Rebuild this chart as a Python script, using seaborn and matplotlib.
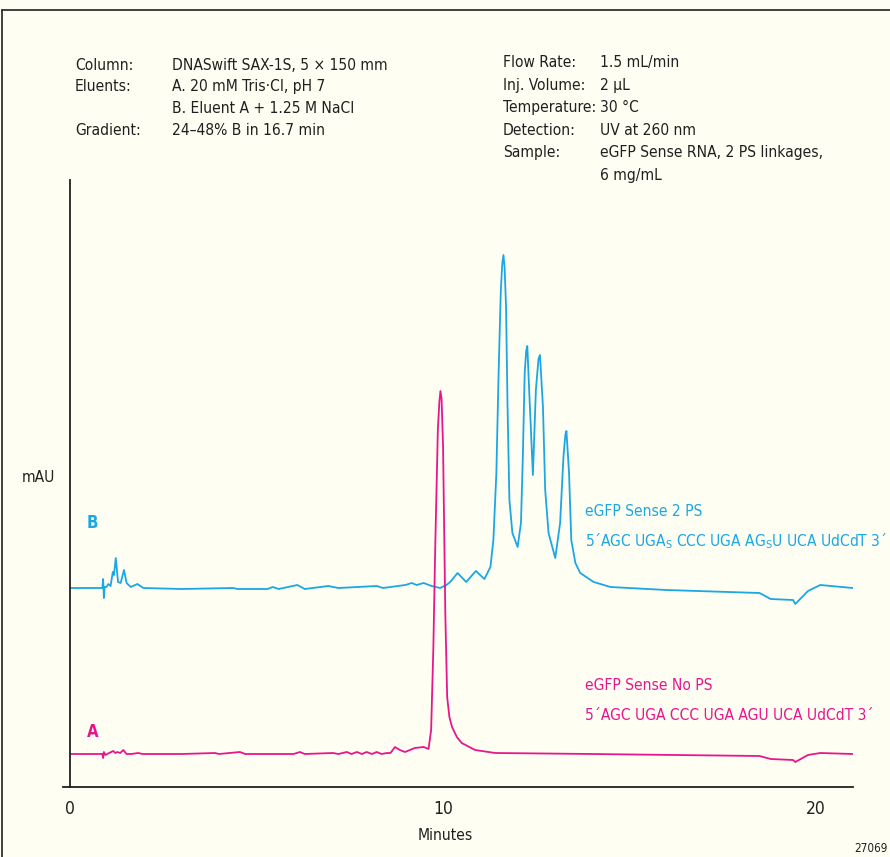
import numpy as np
import pandas as pd
import seaborn as sns
import matplotlib.pyplot as plt
from matplotlib.lines import Line2D

# Trace A: eGFP Sense, no PS linkage (minutes, signal)
tempo_a = [0.0, 0.87, 0.89, 0.91, 0.95, 1.05, 1.16, 1.22, 1.27, 1.35, 1.43, 1.52, 1.65,
           1.83, 1.95, 3.0, 3.89, 4.0, 4.56, 4.7, 6.0, 6.17, 6.3, 7.06, 7.2, 7.43, 7.55,
           7.70, 7.83, 7.96, 8.1, 8.23, 8.36, 8.50, 8.6, 8.72, 8.85, 8.99, 9.25, 9.49,
           9.62, 9.69, 9.75, 9.80, 9.87, 9.91, 9.94, 9.97, 10.01, 10.07, 10.12, 10.18,
           10.25, 10.38, 10.51, 10.87, 11.41, 14.0, 18.5, 18.8, 19.4, 19.46, 19.8, 20.13, 21.0]
sinal_a = [33, 33, 29, 35, 32, 34, 36, 34, 35, 34, 37, 33, 33,
           34, 33, 33, 34, 33, 35, 33, 33, 35, 33, 34, 33, 35, 33,
           35, 33, 35, 33, 35, 33, 34, 34, 40, 37, 35, 39, 40,
           38, 57, 140, 240, 357, 385, 396, 388, 340, 174, 90, 70,
           60, 50, 44, 37, 34, 33, 31, 28, 27, 25, 32, 34, 33]

# Trace B: eGFP Sense, 2 PS linkages
tempo_b = [0.0, 0.87, 0.89, 0.91, 0.93, 0.98, 1.03, 1.09, 1.15, 1.18, 1.23, 1.29, 1.36,
           1.45, 1.52, 1.63, 1.81, 1.97, 3.0, 4.38, 4.5, 5.3, 5.44, 5.6, 6.10, 6.3, 6.93,
           7.2, 8.23, 8.4, 9.0, 9.17, 9.3, 9.49, 9.7, 9.93, 10.1, 10.2, 10.40, 10.63,
           10.89, 11.12, 11.28, 11.36, 11.44, 11.50, 11.56, 11.60, 11.63, 11.66, 11.70,
           11.74, 11.79, 11.87, 12.01, 12.10, 12.15, 12.20, 12.24, 12.27, 12.32, 12.42,
           12.50, 12.57, 12.61, 12.69, 12.75, 12.84, 13.02, 13.15, 13.24, 13.29, 13.32,
           13.39, 13.45, 13.56, 13.69, 14.05, 14.50, 16.0, 18.5, 18.8, 19.4, 19.46, 19.8,
           20.13, 21.0]
sinal_b = [199, 199, 208, 189, 200, 200, 203, 201, 215, 212, 229, 205, 204,
           217, 204, 200, 203, 199, 198, 199, 198, 198, 200, 198, 202, 198, 201,
           199, 201, 199, 202, 204, 202, 204, 201, 199, 202, 205, 214, 205,
           216, 208, 220, 247, 314, 414, 497, 524, 532, 520, 480,
           380, 287, 254, 240, 264, 330, 414, 436, 441, 397, 312,
           397, 428, 432, 380, 297, 254, 229, 264, 330, 352, 356,
           314, 247, 224, 214, 205, 200, 197, 194, 188, 187, 183, 196,
           202, 199]

condicoes_esq = [("Column:", "DNASwift SAX-1S, 5 \u00d7 150 mm"),
                 ("Eluents:", "A. 20 mM Tris\u00b7Cl, pH 7"),
                 ("", "B. Eluent A + 1.25 M NaCl"),
                 ("Gradient:", "24\u201348% B in 16.7 min")]
condicoes_dir = [("Flow Rate:", "1.5 mL/min"),
                 ("Inj. Volume:", "2 \u00b5L"),
                 ("Temperature:", "30 \u00b0C"),
                 ("Detection:", "UV at 260 nm"),
                 ("Sample:", "eGFP Sense RNA, 2 PS linkages,"),
                 ("", "6 mg/mL")]

AZUL = '#1ba7e4'
MAGENTA = '#e8168c'
FUNDO = '#fefef3'
ESCURO = '#231f20'

sns.set_style("white")
plt.rcParams['font.family'] = ['DejaVu Sans Condensed', 'DejaVu Sans']
plt.rcParams['font.stretch'] = 'condensed'
plt.rcParams['mathtext.fontset'] = 'custom'
plt.rcParams['mathtext.rm'] = 'DejaVu Sans:stretch=condensed'

W, H = 890, 857
fig = plt.figure(figsize=(W / 100, H / 100), dpi=100, facecolor=FUNDO)


def texto(x, y, s, **kw):
    # posicao em pixels da imagem (origem no topo)
    fig.text(x / W, 1 - y / H, s, va='center', **kw)


ax = fig.add_axes([62.5 / W, (H - 787) / H, (852.7 - 62.5) / W, (787 - 180) / H])
ax.set_facecolor(FUNDO)

df_a = pd.DataFrame({"Minutes": tempo_a, "mAU": sinal_a})
df_b = pd.DataFrame({"Minutes": tempo_b, "mAU": sinal_b})
sns.lineplot(data=df_b, x="Minutes", y="mAU", ax=ax, color=AZUL, lw=1.3,
             sort=False, estimator=None)
sns.lineplot(data=df_a, x="Minutes", y="mAU", ax=ax, color=MAGENTA, lw=1.3,
             sort=False, estimator=None)

ax.set_xlim(-0.2, 21.0)
ax.set_ylim(0, 607)
for lado in ['top', 'right']:
    ax.spines[lado].set_visible(False)
ax.spines['left'].set_position(('data', 0))
for lado in ['left', 'bottom']:
    ax.spines[lado].set_color(ESCURO)
    ax.spines[lado].set_linewidth(1.3)

ax.set_xticks([0, 10, 20, 21])
ax.set_xticklabels(['0', '10', '20', ''])
ax.set_yticks([607])
ax.set_yticklabels([''])
ax.tick_params(axis='x', direction='out', length=6, width=1.2, color=ESCURO,
               labelsize=12.5, labelcolor=ESCURO, pad=3)
ax.tick_params(axis='y', direction='out', length=5, width=1.2, color=ESCURO)
ax.set_xlabel('')
ax.set_ylabel('')

# condicoes cromatograficas
for i, (rot, val) in enumerate(condicoes_esq):
    y = 65 + i * 21.7
    texto(75, y, rot, fontsize=11.2, color=ESCURO)
    texto(172, y, val, fontsize=11.2, color=ESCURO)
for i, (rot, val) in enumerate(condicoes_dir):
    y = 62.7 + i * 22.5
    texto(503, y, rot, fontsize=11.2, color=ESCURO)
    texto(600, y, val, fontsize=11.2, color=ESCURO)

texto(22, 477, 'mAU', fontsize=11.2, color=ESCURO)
texto(445, 836, 'Minutes', fontsize=11.2, color=ESCURO, ha='center')
texto(854, 848, '27069', fontsize=8.5, color=ESCURO)

texto(87, 523, 'B', fontsize=12, color=AZUL, fontweight='bold')
texto(87, 732, 'A', fontsize=12, color=MAGENTA, fontweight='bold')

texto(585, 511, 'eGFP Sense 2 PS', fontsize=11.2, color=AZUL)
texto(585, 541, '5\u00b4AGC UGA$_\\mathregular{S}$ CCC UGA AG$_\\mathregular{S}$U UCA UdCdT 3\u00b4',
      fontsize=11.2, color=AZUL)
texto(585, 686, 'eGFP Sense No PS', fontsize=11.2, color=MAGENTA)
texto(585, 716, '5\u00b4AGC UGA CCC UGA AGU UCA UdCdT 3\u00b4', fontsize=11.2, color=MAGENTA)

# moldura da figura (esquerda e topo)
fig.add_artist(Line2D([2 / W, 2 / W], [0, 1 - 10 / H], transform=fig.transFigure,
                      color=ESCURO, lw=1.2))
fig.add_artist(Line2D([2 / W, 1], [1 - 10 / H, 1 - 10 / H], transform=fig.transFigure,
                      color=ESCURO, lw=1.2))

fig.savefig('out.png', dpi=100, facecolor=FUNDO)
